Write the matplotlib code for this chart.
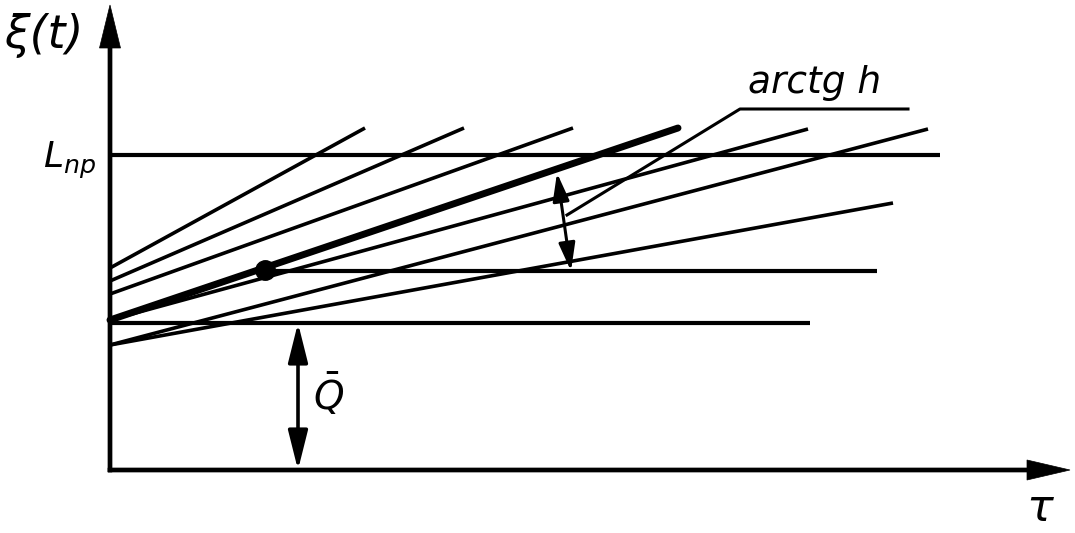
import matplotlib.pyplot as plt

# schematic in pixel-like units, origin at the axes corner
level_y = [315, 199, 147]          # L_np, intermediate level, Q level
level_x0 = [0, 155, 0]
level_x1 = [830, 767, 700]

ray_x0 = [0, 0, 0, 0, 0, 0]
ray_y0 = [202, 189, 176, 150, 125, 125]
ray_x1 = [255, 354, 463, 698, 818, 783]
ray_y1 = [342, 342, 342, 341, 341, 267]

thick_x = [0, 568]
thick_y = [150, 342]
dot_x, dot_y = 155, 200

gap_arrow_x = [447, 461]
gap_arrow_y = [297, 199]
leader_x = [457, 630, 798]
leader_y = [255, 361, 361]

q_arrow_x = 188
q_arrow_y = [0, 147]


def main_function():
    fig = plt.figure(figsize=(10.75, 5.33), dpi=100)
    ax = fig.add_axes([0, 0, 1, 1])
    ax.set_xlim(-110, 965)
    ax.set_ylim(-63, 470)
    ax.axis('off')

    # axes with arrow heads
    ax.arrow(0, -2, 0, 467, width=4, head_width=21, head_length=43,
             length_includes_head=True, fc='black', ec='black', lw=0.5)
    ax.arrow(-2, 0, 962, 0, width=4, head_width=20, head_length=43,
             length_includes_head=True, fc='black', ec='black', lw=0.5)

    for y, x0, x1 in zip(level_y, level_x0, level_x1):
        ax.plot([x0, x1], [y, y], color='black', lw=3.0, solid_capstyle='butt')

    for x0, y0, x1, y1 in zip(ray_x0, ray_y0, ray_x1, ray_y1):
        ax.plot([x0, x1], [y0, y1], color='black', lw=2.6, solid_capstyle='butt')

    ax.plot(thick_x, thick_y, color='black', lw=5, solid_capstyle='round')
    ax.plot(dot_x, dot_y, 'o', ms=14, color='black')

    ax.annotate('', xy=(gap_arrow_x[0], gap_arrow_y[0]), xytext=(gap_arrow_x[1], gap_arrow_y[1]),
                arrowprops=dict(arrowstyle='<|-|>,head_length=17,head_width=5', mutation_scale=1,
                                lw=2.2, color='black', shrinkA=0, shrinkB=0))
    ax.plot(leader_x, leader_y, color='black', lw=2.2)

    ax.annotate('', xy=(q_arrow_x, q_arrow_y[1]), xytext=(q_arrow_x, q_arrow_y[0]),
                arrowprops=dict(arrowstyle='<|-|>,head_length=24,head_width=6', mutation_scale=1,
                                lw=2.6, color='black', shrinkA=0, shrinkB=0))

    ax.text(-106, 435, 'ξ(t)', fontsize=33, style='italic', ha='left', va='center')
    ax.text(-40, 310, r'$L_{np}$', fontsize=26, ha='center', va='center')
    ax.text(219, 75, r'$\bar{Q}$', fontsize=28, ha='center', va='center')
    ax.text(930, -51, r'$\tau$', fontsize=32, ha='center', va='baseline')
    ax.text(638, 377, 'arctg h', fontsize=27, style='italic', ha='left', va='baseline')

    plt.savefig('out.png', format='png', dpi=100)


if __name__ == '__main__':
    main_function()
